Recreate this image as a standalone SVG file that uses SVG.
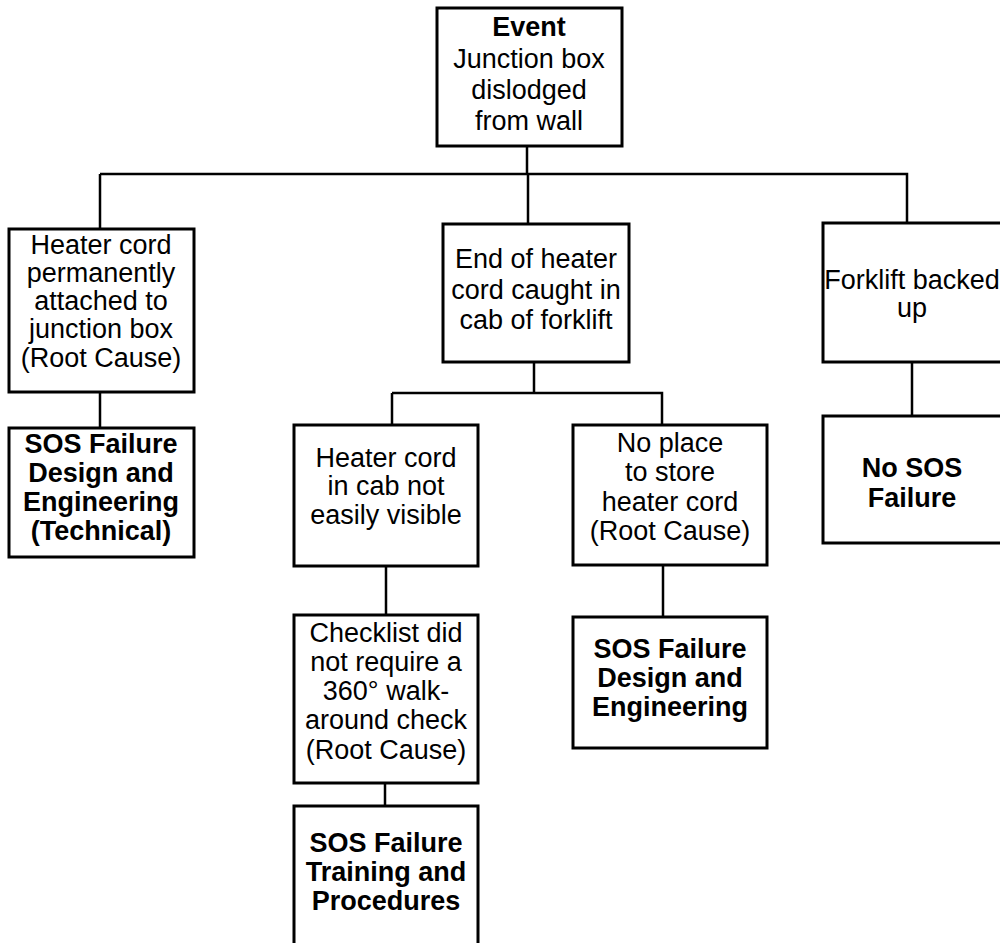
<svg xmlns="http://www.w3.org/2000/svg" width="1000" height="943" viewBox="0 0 1000 943">
<style>
.box{fill:#fff;stroke:#000;stroke-width:3}
.ln{fill:none;stroke:#000;stroke-width:2.5}
text{font-family:"Liberation Sans",Arial,sans-serif;font-size:27px;text-anchor:middle;fill:#000}
.b{font-weight:bold}
</style>
<rect width="1000" height="943" fill="#fff"/>
<g id="connectors">
<path class="ln" d="M527,146 V174 M100,174 H907 V223 M100,174 V229 M528,174 V224 M100,392 V428 M534,362 V393 M392,393 H662 V425 M392,393 V425 M386,566 V615 M385,783 V806 M663,565 V617 M912,362 V416"/>
</g>
<g id="event">
<rect class="box" x="437" y="8" width="185" height="138"/>
<text x="529" y="36" class="b">Event</text>
<text x="529" y="68">Junction box</text>
<text x="529" y="99">dislodged</text>
<text x="529" y="130">from wall</text>
</g>
<g id="heater-perm">
<rect class="box" x="9" y="229" width="185" height="163"/>
<text x="101" y="254">Heater cord</text>
<text x="101" y="282">permanently</text>
<text x="101" y="310">attached to</text>
<text x="101" y="338">junction box</text>
<text x="101" y="367">(Root Cause)</text>
</g>
<g id="sos-technical">
<rect class="box" x="9" y="428" width="185" height="129"/>
<text x="101" y="453" class="b">SOS Failure</text>
<text x="101" y="482" class="b">Design and</text>
<text x="101" y="511" class="b">Engineering</text>
<text x="101" y="540" class="b">(Technical)</text>
</g>
<g id="caught">
<rect class="box" x="443" y="224" width="186" height="138"/>
<text x="536" y="268">End of heater</text>
<text x="536" y="299">cord caught in</text>
<text x="536" y="329">cab of forklift</text>
</g>
<g id="not-visible">
<rect class="box" x="294" y="425" width="184" height="141"/>
<text x="386" y="467">Heater cord</text>
<text x="386" y="495">in cab not</text>
<text x="386" y="524">easily visible</text>
</g>
<g id="checklist">
<rect class="box" x="294" y="615" width="184" height="168"/>
<text x="386" y="642">Checklist did</text>
<text x="386" y="671">not require a</text>
<text x="386" y="700">360° walk-</text>
<text x="386" y="729">around check</text>
<text x="386" y="759">(Root Cause)</text>
</g>
<g id="sos-training">
<path class="box" d="M294,945 V806 H478 V945"/>
<text x="386" y="852" class="b">SOS Failure</text>
<text x="386" y="881" class="b">Training and</text>
<text x="386" y="910" class="b">Procedures</text>
</g>
<g id="no-place">
<rect class="box" x="573" y="425" width="194" height="140"/>
<text x="670" y="452">No place</text>
<text x="670" y="481">to store</text>
<text x="670" y="511">heater cord</text>
<text x="670" y="540">(Root Cause)</text>
</g>
<g id="sos-design">
<rect class="box" x="573" y="617" width="194" height="131"/>
<text x="670" y="658" class="b">SOS Failure</text>
<text x="670" y="687" class="b">Design and</text>
<text x="670" y="716" class="b">Engineering</text>
</g>
<g id="forklift">
<rect class="box" x="823" y="223" width="182" height="139"/>
<text x="912" y="289">Forklift backed</text>
<text x="912" y="317">up</text>
</g>
<g id="no-sos">
<rect class="box" x="823" y="416" width="182" height="127"/>
<text x="912" y="477" class="b">No SOS</text>
<text x="912" y="507" class="b">Failure</text>
</g>
</svg>
